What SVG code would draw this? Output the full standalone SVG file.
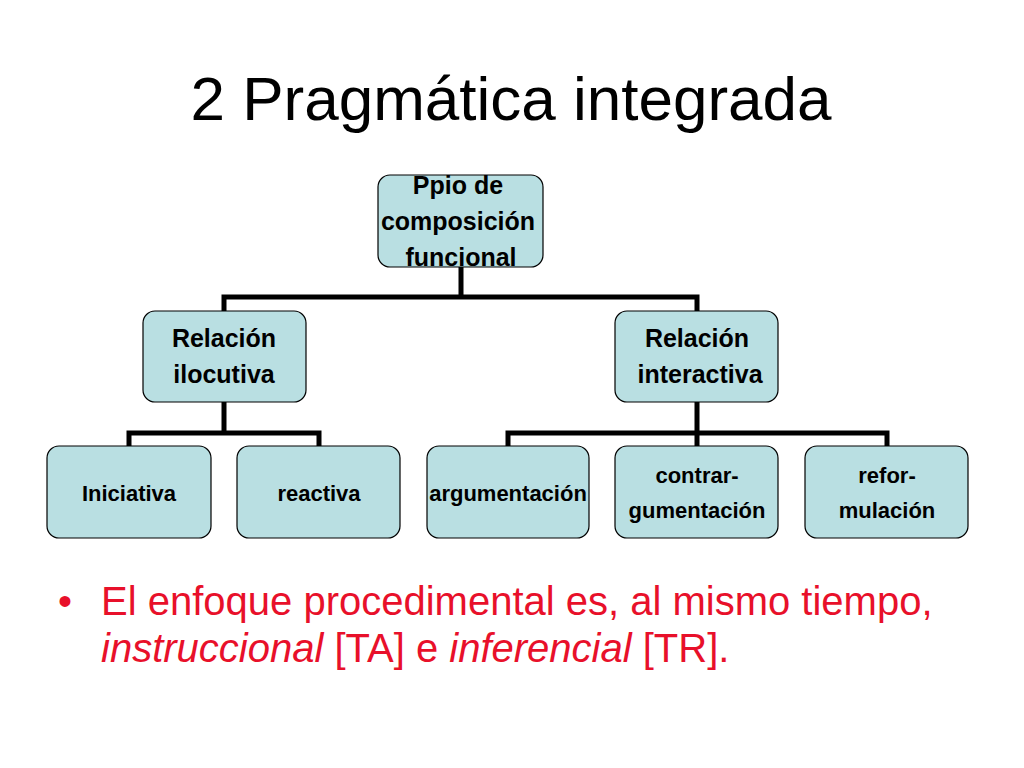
<svg xmlns="http://www.w3.org/2000/svg" width="1024" height="768" viewBox="0 0 1024 768">
<style>
.n{fill:#b9dfe2;stroke:#000;stroke-width:1.2}
.t{font-family:"Liberation Sans",Arial,sans-serif;font-weight:bold;font-size:25px;text-anchor:middle;fill:#000}
.s{font-size:22px}
.c{stroke:#000;stroke-width:5;fill:none}
.b{font-family:"Liberation Sans",Arial,sans-serif;font-size:40px;fill:#e8102a}
</style>
<rect width="1024" height="768" fill="#fff"/>
<text x="511" y="120" font-family="'Liberation Sans',Arial,sans-serif" font-size="62" text-anchor="middle">2 Pragmática integrada</text>
<g id="connectors">
<path class="c" d="M461 267V297M224 311V297H697V311M224 402V433M129 446V433H319V446M697 402V446M508 446V433H887V446"/>
</g>
<g id="n1"><rect class="n" x="378" y="175" width="165" height="92" rx="12"/><text class="t" x="458" y="194">Ppio de</text><text class="t" x="458" y="230">composición</text><text class="t" x="461" y="266">funcional</text></g>
<g id="n2"><rect class="n" x="143" y="311" width="163" height="91" rx="12"/><text class="t" x="224" y="347">Relación</text><text class="t" x="224" y="383">ilocutiva</text></g>
<g id="n3"><rect class="n" x="615" y="311" width="163" height="91" rx="12"/><text class="t" x="697" y="347">Relación</text><text class="t" x="700" y="383">interactiva</text></g>
<g id="n4"><rect class="n" x="47" y="446" width="164" height="92" rx="12"/><text class="t s" x="129" y="501">Iniciativa</text></g>
<g id="n5"><rect class="n" x="237" y="446" width="163" height="92" rx="12"/><text class="t s" x="319" y="501">reactiva</text></g>
<g id="n6"><rect class="n" x="427" y="446" width="162" height="92" rx="12"/><text class="t s" x="508" y="501">argumentación</text></g>
<g id="n7"><rect class="n" x="615" y="446" width="163" height="92" rx="12"/><text class="t s" x="697" y="483">contrar-</text><text class="t s" x="697" y="518">gumentación</text></g>
<g id="n8"><rect class="n" x="805" y="446" width="163" height="92" rx="12"/><text class="t s" x="887" y="483">refor-</text><text class="t s" x="887" y="518">mulación</text></g>
<text class="b" x="58" y="615">•</text>
<text class="b" x="101" y="615">El enfoque procedimental es, al mismo tiempo,</text>
<text class="b" x="101" y="662"><tspan font-style="italic">instruccional</tspan> [TA] e <tspan font-style="italic">inferencial</tspan> [TR].</text>
</svg>
